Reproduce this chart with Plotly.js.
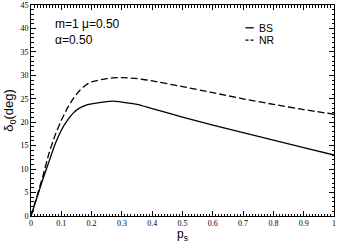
<!DOCTYPE html>
<html>
<head>
<meta charset="utf-8">
<script src="https://cdn.plot.ly/plotly-3.0.1.min.js"></script>
<style>html,body{margin:0;padding:0;background:#fff;}#chart{width:338px;height:243px;}</style>
</head>
<body>
<div id="chart"></div>
<script>
// momentum p_s
const ps = [0, 0.02, 0.04, 0.06, 0.08, 0.10, 0.12, 0.14, 0.16, 0.18, 0.20, 0.25, 0.27, 0.30, 0.35, 0.40, 0.50, 0.60, 0.70, 0.80, 0.90, 1.00];
// phase shift delta_0 (deg), BS
const deltaBS = [0, 4.0, 8.0, 11.7, 15.4, 18.3, 20.4, 22.0, 23.0, 23.6, 23.9, 24.4, 24.5, 24.3, 23.8, 22.9, 21.1, 19.4, 17.8, 16.2, 14.6, 13.0];
// phase shift delta_0 (deg), NR
const deltaNR = [0, 4.3, 8.7, 13.5, 17.3, 20.4, 23.0, 25.1, 26.7, 27.9, 28.6, 29.3, 29.45, 29.5, 29.3, 28.8, 27.6, 26.3, 25.0, 23.8, 22.7, 21.7];
const seriesNames = ['BS', 'NR'];
const paramText1 = 'm=1 μ=0.50';
const paramText2 = 'α=0.50';

const traces = [
  {x: ps, y: deltaBS, name: seriesNames[0], type: 'scatter', mode: 'lines',
   line: {color: '#000', width: 1.3, shape: 'spline', smoothing: 0.6}, showlegend: false},
  {x: ps, y: deltaNR, name: seriesNames[1], type: 'scatter', mode: 'lines',
   line: {color: '#000', width: 1.3, dash: '7px,3px', shape: 'spline', smoothing: 0.6}, showlegend: false}
];

const tickFont = {family: 'Liberation Serif, Times New Roman, serif', size: 8, color: '#000'};
const sans = 'Liberation Sans, Arial, Helvetica, sans-serif';

const axisCommon = {
  ticks: 'inside', ticklen: 5, tickwidth: 1, tickcolor: '#000',
  showline: true, linecolor: '#000', linewidth: 1, mirror: 'allticks',
  showgrid: false, zeroline: false, tickfont: tickFont, automargin: false
};

const layout = {
  width: 338, height: 243,
  margin: {l: 31, r: 4, t: 5, b: 27},
  paper_bgcolor: '#fff', plot_bgcolor: '#fff',
  showlegend: false,
  xaxis: Object.assign({}, axisCommon, {
    range: [0, 1], tick0: 0, dtick: 0.1, ticklabelstandoff: -1,
    minor: {dtick: 0.01, ticks: 'inside', ticklen: 2.5, tickcolor: '#000', tickwidth: 1, showgrid: false},
    title: {text: 'p<sub>s</sub>', font: {family: sans, size: 12, color: '#000'}, standoff: 4}
  }),
  yaxis: Object.assign({}, axisCommon, {
    range: [0, 45], tick0: 0, dtick: 5,
    minor: {dtick: 1, ticks: 'inside', ticklen: 2.5, tickcolor: '#000', tickwidth: 1, showgrid: false},
    title: {text: 'δ<sub>0</sub>(deg)', font: {family: sans, size: 13, color: '#000'}, standoff: 3}
  }),
  annotations: [
    {xref: 'paper', yref: 'paper', x: 0.072, y: 0.91, xanchor: 'left', yanchor: 'middle',
     text: paramText1, showarrow: false, font: {family: sans, size: 12, color: '#000'}},
    {xref: 'paper', yref: 'paper', x: 0.072, y: 0.834, xanchor: 'left', yanchor: 'middle',
     text: paramText2, showarrow: false, font: {family: sans, size: 12, color: '#000'}},
    {xref: 'paper', yref: 'paper', x: 0.745, y: 0.892, xanchor: 'left', yanchor: 'middle',
     text: seriesNames[0], showarrow: false, font: {family: sans, size: 10.5, color: '#000'}},
    {xref: 'paper', yref: 'paper', x: 0.745, y: 0.834, xanchor: 'left', yanchor: 'middle',
     text: seriesNames[1], showarrow: false, font: {family: sans, size: 10.5, color: '#000'}}
  ],
  shapes: [
    {type: 'line', xref: 'paper', yref: 'paper', x0: 0.708, x1: 0.735, y0: 0.892, y1: 0.892,
     line: {color: '#000', width: 1.3}},
    {type: 'line', xref: 'paper', yref: 'paper', x0: 0.708, x1: 0.735, y0: 0.834, y1: 0.834,
     line: {color: '#000', width: 1.3, dash: '3px,2px'}}
  ]
};

Plotly.newPlot('chart', traces, layout, {staticPlot: true, displayModeBar: false});
</script>
</body>
</html>
